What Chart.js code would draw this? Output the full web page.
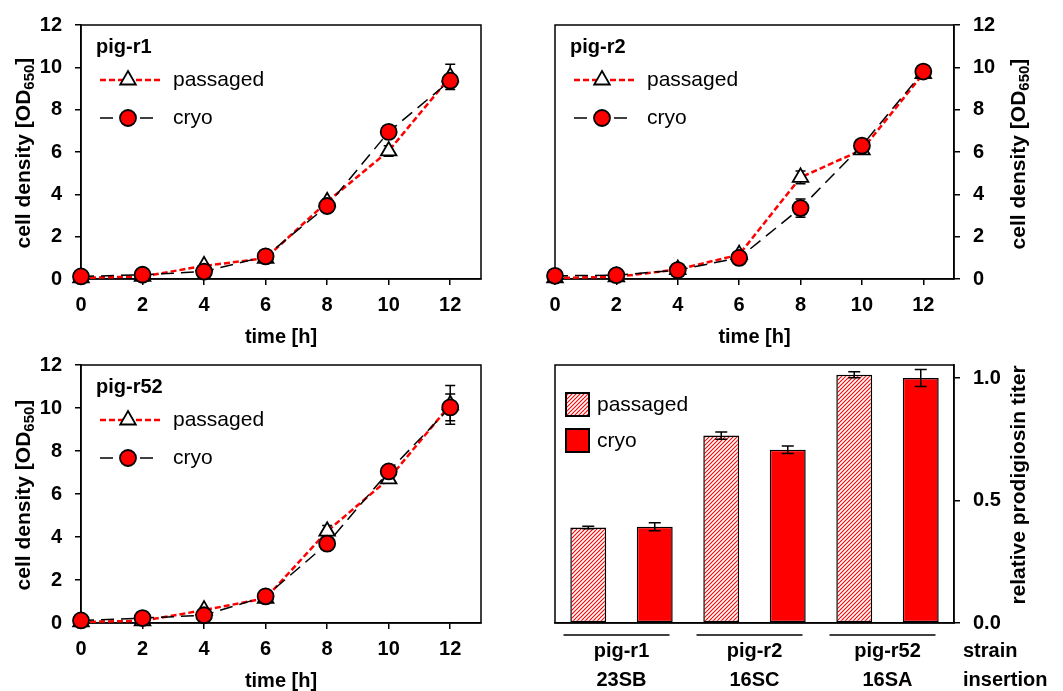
<!DOCTYPE html>
<html>
<head>
<meta charset="utf-8">
<title>growth and prodigiosin titer</title>
<script src="https://cdn.jsdelivr.net/npm/chart.js@4.4.1/dist/chart.umd.min.js"></script>
<style>
  html, body { margin: 0; padding: 0; background: #fff; overflow: hidden; }
  #page { position: relative; width: 1063px; height: 691px; font-family: "Liberation Sans", Arial, sans-serif; }
  canvas { position: absolute; }
  .ytitle { position: absolute; font-weight: bold; font-size: 21px; white-space: nowrap; color: #000;
            transform: translate(-50%, -50%) rotate(-90deg); }
  .ytitle sub { font-size: 15px; vertical-align: -4px; line-height: 0; }
</style>
</head>
<body>
<div id="page">
  <canvas id="c1" width="530" height="360" style="left:0;top:0"></canvas>
  <canvas id="c2" width="533" height="360" style="left:530px;top:0"></canvas>
  <canvas id="c3" width="530" height="351" style="left:0;top:340px"></canvas>
  <canvas id="c4" width="533" height="351" style="left:530px;top:340px"></canvas>

  <div class="ytitle" style="left:23px;top:153px">cell density [OD<sub>650</sub>]</div>
  <div class="ytitle" style="left:1018px;top:154px">cell density [OD<sub>650</sub>]</div>
  <div class="ytitle" style="left:23px;top:495px">cell density [OD<sub>650</sub>]</div>
  <div class="ytitle" style="left:1018px;top:485px">relative prodigiosin titer</div>
</div>
<script>
// sampling times [h]
const times = [0, 2, 4, 6, 8, 10, 12];
const timeTicks = [0, 2, 4, 6, 8, 10, 12];

// pig-r1
const r1Passaged    = [0.05, 0.12, 0.62, 0.98, 3.65, 6.05, 9.55];
const r1PassagedErr = [0.03, 0.03, 0.08, 0.06, 0.12, 0.25, 0.60];
const r1Cryo        = [0.12, 0.20, 0.35, 1.07, 3.45, 6.95, 9.37];
const r1CryoErr     = [0.03, 0.05, 0.10, 0.10, 0.15, 0.15, 0.25];

// pig-r2
const r2Passaged    = [0.05, 0.10, 0.45, 1.15, 4.80, 6.10, 9.70];
const r2PassagedErr = [0.02, 0.02, 0.05, 0.10, 0.30, 0.10, 0.10];
const r2Cryo        = [0.15, 0.18, 0.42, 1.00, 3.35, 6.30, 9.80];
const r2CryoErr     = [0.02, 0.03, 0.05, 0.05, 0.43, 0.10, 0.10];

// pig-r52
const r52Passaged    = [0.05, 0.10, 0.60, 1.15, 4.27, 6.70, 10.15];
const r52PassagedErr = [0.02, 0.03, 0.08, 0.08, 0.27, 0.15, 0.90];
const r52Cryo        = [0.12, 0.23, 0.36, 1.24, 3.69, 7.05, 10.03];
const r52CryoErr     = [0.03, 0.04, 0.06, 0.08, 0.30, 0.15, 0.62];

// prodigiosin titer
const strains = ['pig-r1', 'pig-r2', 'pig-r52'];
const insertions = ['23SB', '16SC', '16SA'];
const titerPassaged    = [0.390, 0.765, 1.013];
const titerPassagedErr = [0.005, 0.015, 0.012];
const titerCryo        = [0.393, 0.707, 1.000];
const titerCryoErr     = [0.016, 0.015, 0.035];
const titerTicks = [0, 0.5, 1.0];

const FONT = '"Liberation Sans", Arial, sans-serif';
Chart.defaults.font.family = FONT;
Chart.defaults.color = '#000';

function hatchPattern() {
    const c = document.createElement('canvas');
    c.width = 4; c.height = 4;
    const g = c.getContext('2d');
    g.fillStyle = '#fff';
    g.fillRect(0, 0, 4, 4);
    g.strokeStyle = '#ff0000';
    g.lineWidth = 1.1;
    g.beginPath();
    g.moveTo(0, 4); g.lineTo(4, 0);
    g.moveTo(-1, 1); g.lineTo(1, -1);
    g.moveTo(3, 5); g.lineTo(5, 3);
    g.stroke();
    return g.createPattern(c, 'repeat');
}
const hatch = hatchPattern();

function marker(ctx, style, x, y, r, fill) {
    ctx.save();
    ctx.setLineDash([]);
    ctx.fillStyle = fill;
    ctx.strokeStyle = '#000';
    ctx.lineWidth = 1.8;
    ctx.beginPath();
    if (style === 'triangle') {
        for (let k = 0; k < 3; k++) {
            const a = k * 2 * Math.PI / 3;
            const px = x + Math.sin(a) * r, py = y - Math.cos(a) * r;
            if (k === 0) ctx.moveTo(px, py); else ctx.lineTo(px, py);
        }
        ctx.closePath();
    } else {
        ctx.arc(x, y, r, 0, Math.PI * 2);
    }
    ctx.fill();
    ctx.stroke();
    ctx.restore();
}

function drawErrors(chart, cap) {
    const ctx = chart.ctx, ys = chart.scales.y;
    ctx.save();
    ctx.strokeStyle = '#000';
    ctx.lineWidth = 1.5;
    ctx.setLineDash([]);
    chart.data.datasets.forEach((ds, i) => {
        chart.getDatasetMeta(i).data.forEach((el, j) => {
            const v = ds.data[j];
            const y = (typeof v === 'object') ? v.y : v;
            const top = ys.getPixelForValue(y + ds.err[j]);
            const bot = ys.getPixelForValue(y - ds.err[j]);
            ctx.beginPath();
            ctx.moveTo(el.x, top); ctx.lineTo(el.x, bot);
            ctx.moveTo(el.x - cap, top); ctx.lineTo(el.x + cap, top);
            ctx.moveTo(el.x - cap, bot); ctx.lineTo(el.x + cap, bot);
            ctx.stroke();
        });
    });
    ctx.restore();
}

const frame = {
    id: 'frame',
    beforeDatasetsDraw(chart) {
        const a = chart.chartArea, ctx = chart.ctx;
        ctx.save();
        ctx.strokeStyle = '#000';
        ctx.lineWidth = 1.5;
        ctx.strokeRect(a.left, a.top, a.right - a.left, a.bottom - a.top);
        ctx.restore();
    }
};

function growthChart(id, name, pas, pasErr, cry, cryErr, side, pad, xHeight, titlePad) {
    const left = side === 'left';
    const legendPlugin = {
        id: 'growthLegend',
        afterDraw(chart) {
            const ctx = chart.ctx, a = chart.chartArea;
            const x0 = a.left + 15;
            ctx.save();
            ctx.fillStyle = '#000';
            ctx.textBaseline = 'middle';
            ctx.font = 'bold 20px ' + FONT;
            ctx.fillText(name, x0, a.top + 22);
            chart.data.datasets.forEach((ds, i) => {
                const y = a.top + 55 + i * 38;
                ctx.strokeStyle = ds.borderColor;
                ctx.lineWidth = ds.borderWidth;
                ctx.setLineDash(ds.borderDash);
                ctx.beginPath();
                ctx.moveTo(x0 + 4, y); ctx.lineTo(x0 + 64, y);
                ctx.stroke();
                marker(ctx, ds.pointStyle, x0 + 32, y, ds.pointRadius, ds.pointBackgroundColor);
                ctx.font = '21px ' + FONT;
                ctx.fillStyle = '#000';
                ctx.fillText(ds.label, x0 + 77, y);
            });
            ctx.restore();
        }
    };
    return new Chart(document.getElementById(id), {
        type: 'line',
        data: {
            datasets: [{
                label: 'passaged',
                data: times.map((t, i) => ({ x: t, y: pas[i] })),
                err: pasErr,
                borderColor: '#ff0000', borderWidth: 2.5, borderDash: [6, 3],
                pointStyle: 'triangle', pointRadius: 9,
                pointBackgroundColor: '#ffffff', pointBorderColor: '#000', pointBorderWidth: 1.8,
                clip: false, order: 1
            }, {
                label: 'cryo',
                data: times.map((t, i) => ({ x: t, y: cry[i] })),
                err: cryErr,
                borderColor: '#000', borderWidth: 1.5, borderDash: [13, 7],
                pointStyle: 'circle', pointRadius: 8,
                pointBackgroundColor: '#ff0000', pointBorderColor: '#000', pointBorderWidth: 1.8,
                clip: false, order: 0
            }]
        },
        options: {
            responsive: false,
            animation: false,
            devicePixelRatio: 1,
            layout: { padding: pad },
            plugins: { legend: { display: false }, tooltip: { enabled: false } },
            scales: {
                x: {
                    type: 'linear', min: 0, max: 13,
                    afterBuildTicks: s => { s.ticks = timeTicks.map(v => ({ value: v })); },
                    afterFit: s => { s.height = xHeight; },
                    ticks: { padding: 8, maxRotation: 0, font: { size: 20, weight: 'bold' } },
                    grid: { drawOnChartArea: false, tickLength: 6, color: '#000', lineWidth: 1.5 },
                    border: { color: '#000', width: 1.5 },
                    title: { display: true, text: 'time [h]', padding: { top: 0, bottom: titlePad },
                             font: { size: 20, weight: 'bold', lineHeight: 1 } }
                },
                y: {
                    position: left ? 'left' : 'right', min: 0, max: 12,
                    ticks: { stepSize: 2, includeBounds: false, padding: 13, font: { size: 20, weight: 'bold' } },
                    afterFit: s => { s.width = left ? 81 : 109; },
                    grid: { drawOnChartArea: false, tickLength: 6, color: '#000', lineWidth: 1.5 },
                    border: { color: '#000', width: 1.5 }
                }
            }
        },
        plugins: [frame, { id: 'err', beforeDatasetsDraw: c => drawErrors(c, 5) }, legendPlugin]
    });
}

growthChart('c1', 'pig-r1', r1Passaged, r1PassagedErr, r1Cryo, r1CryoErr, 'left',
    { left: 0, right: 49, top: 22, bottom: 0 }, 81, 13);
growthChart('c2', 'pig-r2', r2Passaged, r2PassagedErr, r2Cryo, r2CryoErr, 'right',
    { left: 25, right: 0, top: 22, bottom: 0 }, 81, 13);
growthChart('c3', 'pig-r52', r52Passaged, r52PassagedErr, r52Cryo, r52CryoErr, 'left',
    { left: 0, right: 49, top: 24, bottom: 0 }, 68, 0);

// bar chart of relative prodigiosin titer
const barDecor = {
    id: 'barDecor',
    afterDraw(chart) {
        const ctx = chart.ctx, a = chart.chartArea, xs = chart.scales.x;
        ctx.save();
        // group lines under the axis
        ctx.strokeStyle = '#000';
        ctx.lineWidth = 1.5;
        strains.forEach((s, i) => {
            const cx = xs.getPixelForValue(i) - 5;
            ctx.beginPath();
            ctx.moveTo(cx - 53, a.bottom + 12); ctx.lineTo(cx + 53, a.bottom + 12);
            ctx.stroke();
        });
        ctx.fillStyle = '#000';
        ctx.textBaseline = 'middle';
        ctx.font = 'bold 20px ' + FONT;
        ctx.fillText('strain', a.right + 9, a.bottom + 28);
        ctx.fillText('insertion', a.right + 9, a.bottom + 57);
        // legend
        const lx = a.left + 11;
        chart.data.datasets.forEach((ds, i) => {
            const y = a.top + 28 + i * 36;
            ctx.fillStyle = ds.backgroundColor;
            ctx.fillRect(lx, y, 23, 23);
            ctx.lineWidth = 2;
            ctx.strokeRect(lx, y, 23, 23);
            ctx.fillStyle = '#000';
            ctx.font = '21px ' + FONT;
            ctx.fillText(ds.label, lx + 31, y + 12);
        });
        ctx.restore();
    }
};

new Chart(document.getElementById('c4'), {
    type: 'bar',
    data: {
        labels: strains.map((s, i) => [s, insertions[i]]),
        datasets: [{
            label: 'passaged', data: titerPassaged, err: titerPassagedErr,
            backgroundColor: hatch, borderColor: '#000', borderWidth: 1.5, borderSkipped: false
        }, {
            label: 'cryo', data: titerCryo, err: titerCryoErr,
            backgroundColor: '#ff0000', borderColor: '#000', borderWidth: 1.5, borderSkipped: false
        }]
    },
    options: {
        responsive: false,
        animation: false,
        devicePixelRatio: 1,
        layout: { padding: { left: 25, right: 0, top: 24, bottom: 0 } },
        categoryPercentage: 1.0,
        barPercentage: 0.54,
        plugins: { legend: { display: false }, tooltip: { enabled: false } },
        scales: {
            x: {
                afterFit: s => { s.height = 68; },
                ticks: { padding: 13.5, maxRotation: 0, font: { size: 20, weight: 'bold', lineHeight: 1.45 } },
                grid: { display: false, drawTicks: false },
                border: { color: '#000', width: 1.5 }
            },
            y: {
                position: 'right', min: 0, max: 1.053,
                afterBuildTicks: s => { s.ticks = titerTicks.map(v => ({ value: v })); },
                afterFit: s => { s.width = 109; },
                ticks: { padding: 13, font: { size: 20, weight: 'bold' }, callback: v => v.toFixed(1) },
                grid: { drawOnChartArea: false, tickLength: 6, color: '#000', lineWidth: 1.5 },
                border: { color: '#000', width: 1.5 }
            }
        }
    },
    plugins: [frame, { id: 'err', afterDatasetsDraw: c => drawErrors(c, 6) }, barDecor]
});
</script>
</body>
</html>
